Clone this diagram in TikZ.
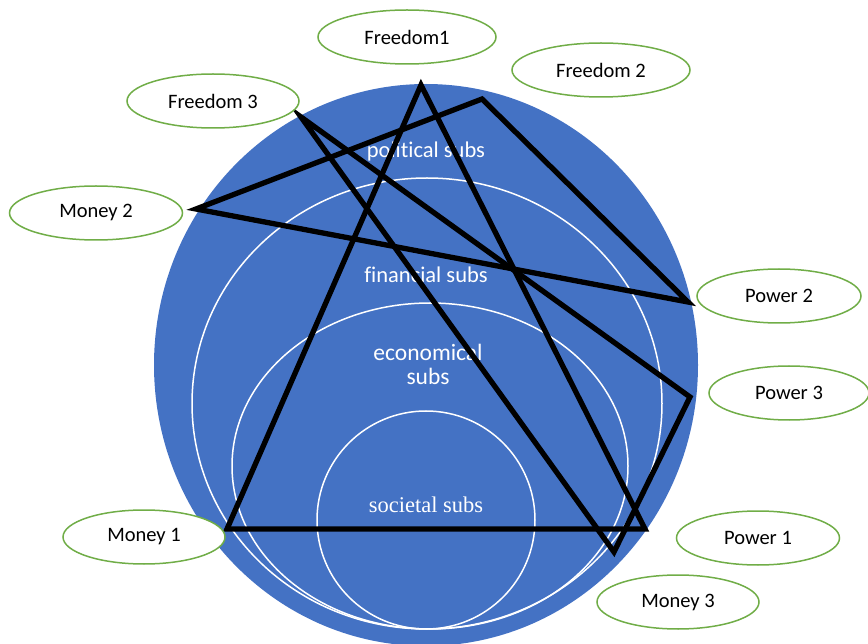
\documentclass[tikz,border=0pt]{standalone}
\usepackage{fontspec}
\setmainfont[Ligatures=NoCommon]{Carlito}
\newfontfamily\serifface{Liberation Serif}
\usetikzlibrary{shapes.geometric}
\definecolor{blueA}{HTML}{4472C4}
\definecolor{greenA}{HTML}{70AD47}
\tikzset{
  oval/.style={ellipse, draw=greenA, line width=1.5pt, fill=white, inner sep=0pt,
    minimum width=#1, minimum height=54pt, font=\fontsize{20.5}{22}\selectfont},
  oval/.default=170pt,
  ring/.style={draw=white, line width=1.5pt},
  inlabel/.style={text=white, align=center, font=\fontsize{22.5}{24}\selectfont},
  thick link/.style={line width=5.3pt, line join=miter, black}
}
\begin{document}
\begin{tikzpicture}[x=1pt,y=-1pt]
\useasboundingbox (0,0) rectangle (868,644);
% discs
\fill[blueA] (426,365) ellipse [x radius=272, y radius=281];
\draw[ring] (427,403.5) ellipse [x radius=235, y radius=225.5];
\draw[ring] (430,466) ellipse [x radius=198, y radius=163];
\draw[ring] (426,520) ellipse [x radius=109, y radius=109];
% labels
\node[inlabel] (pol) at (426,152) {political subs};
\node[inlabel] (fin) at (426,275) {financial subs};
\node[inlabel, font=\fontsize{23.5}{24}\selectfont] (eco) at (428,364) {economical\\subs};
\node[inlabel, font=\serifface\fontsize{22.5}{24}\selectfont] (soc) at (426,505) {societal subs};
% vertices
\coordinate (vfr1) at (421,85);
\coordinate (vm1) at (227,529);
\coordinate (vp1) at (645,529);
\coordinate (vfr2) at (482,99);
\coordinate (vm2) at (196,209);
\coordinate (vp2) at (688,302);
\coordinate (vfr3) at (301,117);
\coordinate (vp3) at (690,397);
\coordinate (vm3) at (614,552);
% triangles
\draw[thick link] (vfr1) -- (vm1) -- (vp1) -- cycle;
\draw[thick link] (vfr2) -- (vm2) -- (vp2) -- cycle;
\draw[thick link] (vfr3) -- (vp3) -- (vm3) -- cycle;
% outer ovals
\node[oval=178pt] (fr1) at (407,37) {Freedom1};
\node[oval=178pt] (fr2) at (601,70) {Freedom 2};
\node[oval=172pt] (fr3) at (213,101) {Freedom 3};
\node[oval=173pt] (m2) at (96,213) {Money 2};
\node[oval=164pt] (p2) at (779,296) {Power 2};
\node[oval=160pt] (p3) at (789,393) {Power 3};
\node[oval=163pt] (p1) at (758,538) {Power 1};
\node[oval=162pt] (m1) at (144,537) {Money 1};
\node[oval=162pt] (m3) at (678,602) {Money 3};
\end{tikzpicture}
\end{document}
